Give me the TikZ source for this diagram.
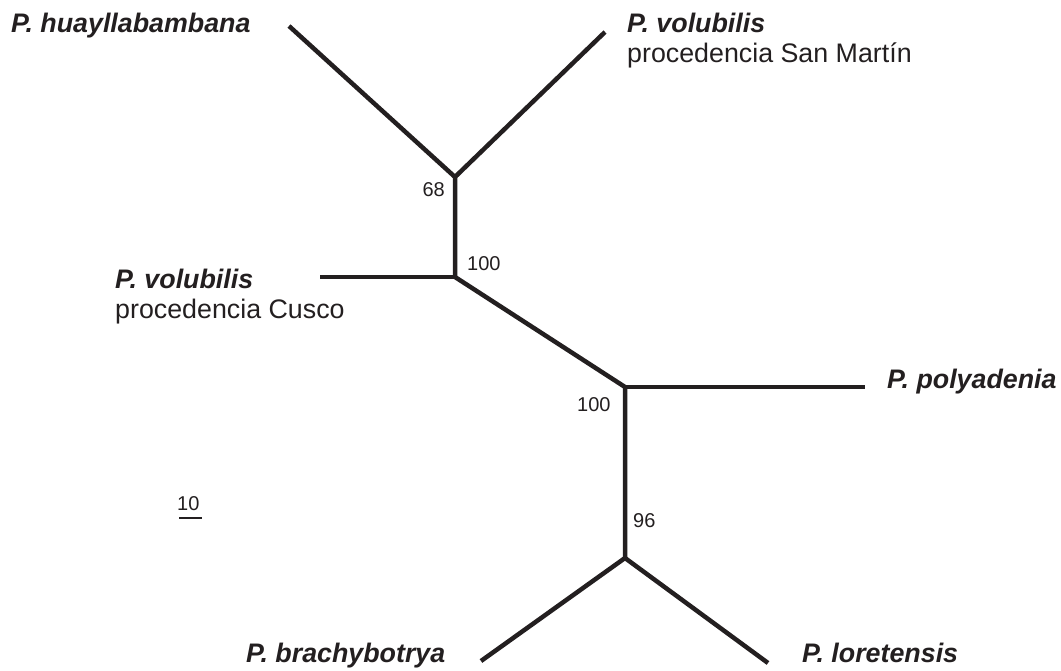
\documentclass[tikz,border=0pt]{standalone}
\usepackage{fontspec}
\setmainfont{Liberation Sans}
\usetikzlibrary{positioning}
\definecolor{ink}{HTML}{231F20}
\begin{document}
\begin{tikzpicture}[x=1pt,y=-1pt,
		branch/.style={draw=ink, line width=4.5pt, line join=miter},
		taxon/.style={inner sep=0pt, text=ink, font=\fontsize{26.8}{30}\selectfont\bfseries\itshape},
		origin/.style={inner sep=0pt, text=ink, font=\fontsize{26.8}{30}\selectfont},
		support/.style={inner sep=0pt, text=ink, font=\fontsize{20}{22}\selectfont}]
		\useasboundingbox (0,0) rectangle (1061,670);
		% internal nodes and tips
		\coordinate (n68) at (455,177);
		\coordinate (n100a) at (455,277);
		\coordinate (n100b) at (625,387);
		\coordinate (n96) at (625,558);
		\coordinate (huay) at (289,26);
		\coordinate (volsm) at (605,32);
		\coordinate (volcu) at (320,277);
		\coordinate (poly) at (865,387);
		\coordinate (brac) at (481,661);
		\coordinate (lore) at (768,663);
		% branches
		\draw[branch] (huay) -- (n68) -- (volsm);
		\draw[branch] (n68) -- (n100a) -- (n100b) -- (n96);
		\draw[branch] (volcu) -- (n100a);
		\draw[branch] (n100b) -- (poly);
		\draw[branch] (brac) -- (n96) -- (lore);
		% taxon labels
		\node[taxon, anchor=base west] (lhuay) at (11,32) {P. huayllabambana};
		\node[taxon, anchor=base west] (lvolsm) at (627,32) {P. volubilis};
		\node[origin, anchor=base west] (lsm) at ([yshift=-30pt]lvolsm.base west) {procedencia San Martín};
		\node[taxon, anchor=base west] (lvolcu) at (115,288) {P. volubilis};
		\node[origin, anchor=base west] (lcu) at ([yshift=-30pt]lvolcu.base west) {procedencia Cusco};
		\node[taxon, anchor=base west] (lpoly) at (887,388) {P. polyadenia};
		\node[taxon, anchor=base west] (lbrac) at (246,662) {P. brachybotrya};
		\node[taxon, anchor=base west] (llore) at (802,662) {P. loretensis};
		% bootstrap values
		\node[support, anchor=base east] (b68) at (445,196) {68};
		\node[support, anchor=base west] (b100a) at (467,270) {100};
		\node[support, anchor=base west] (b100b) at (577,411) {100};
		\node[support, anchor=base west] (b96) at (633,527) {96};
		% scale bar
		\node[support, anchor=base west] (sc) at (177,510) {10};
		\coordinate (scl) at (179,518);
		\coordinate (scr) at (202,518);
		\draw[draw=ink, line width=2pt] (scl) -- (scr);
\end{tikzpicture}
\end{document}
